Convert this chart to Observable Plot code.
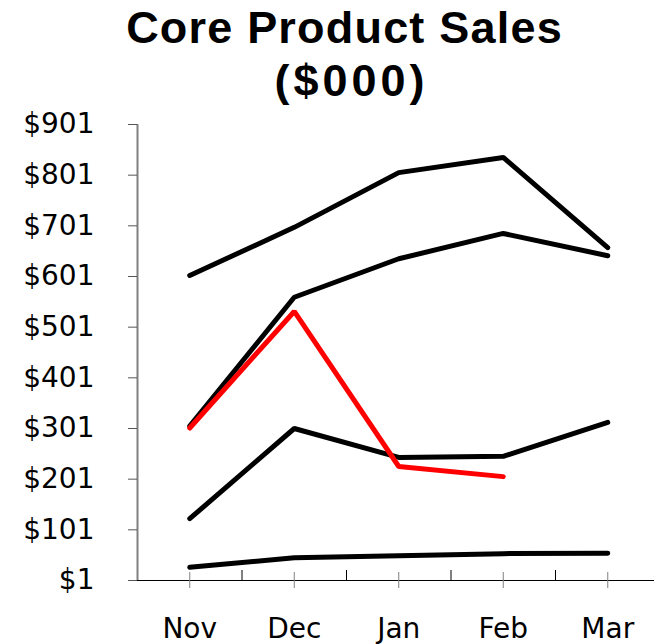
<!DOCTYPE html>
<html><head><meta charset="utf-8">
<script src="https://cdn.jsdelivr.net/npm/d3@7"></script>
<script src="https://cdn.jsdelivr.net/npm/@observablehq/plot@0.6"></script>
<style>
body{margin:0;background:#fff;}
#title{width:654px;height:104px;padding-top:2px;box-sizing:border-box;font-family:"Liberation Sans",Arial,sans-serif;font-weight:bold;font-size:45px;line-height:52.5px;color:#000;}
#title div{text-align:center;box-sizing:border-box;width:654px;white-space:nowrap;}
#t1{padding-left:35px;letter-spacing:1.2px;}
#t2{padding-left:49px;letter-spacing:4px;}
#chart svg{display:block;}
</style></head><body>
<div id="title"><div id="t1">Core Product Sales</div><div id="t2">($000)</div></div>
<div id="chart"></div>
<script>
const months = ["Nov","Dec","Jan","Feb","Mar"];
const yTicks = [1,101,201,301,401,501,601,701,801,901];
const productA = [603,698,806,836,658];
const productB = [306,560,636,686,642];
const productC = [123,301,244,246,313];
const productD = [27,46,50,54,55];
const productE = [302,532,226,206];

const blackSeries = [productA, productB, productC, productD];
const rows = (vals, s) => vals.map((v,i)=>({series:s, i, month: months[i], value:v}));
const black = blackSeries.flatMap((vals,k)=>rows(vals,"S"+k));
const red = rows(productE,"E");
const majorTicks = months.map((_,i)=>i);
const minorTicks = months.slice(1).map((_,i)=>i+0.5);

const chart = Plot.plot({
  width:654, height:540, marginLeft:128, marginRight:0, marginTop:20, marginBottom:64,
  style:{fontFamily:"'DejaVu Sans', Verdana, sans-serif", fontSize:"28px", color:"#000", background:"#fff"},
  x:{type:"linear", domain:[-0.5, months.length-0.5], range:[137, 659.5], label:null},
  y:{domain:[yTicks[0], yTicks[yTicks.length-1]], label:null},
  marks:[
    Plot.ruleY([yTicks[0]], {stroke:"#000", strokeWidth:1}),
    Plot.ruleX([-0.5], {y1:yTicks[0], y2:yTicks[yTicks.length-1], stroke:"#808080", strokeWidth:2}),
    Plot.axisY({ticks:yTicks, tickFormat:d=>"$"+d, tickSize:9, dx:9, tickPadding:34, stroke:"#555", fontSize:28, label:null}),
    Plot.axisX({ticks:majorTicks, tickFormat:i=>months[i], tickSize:8, tickPadding:30, stroke:"#808080", fontSize:28, label:null}),
    Plot.axisX({ticks:majorTicks, tickFormat:()=>"", tickSize:-8, stroke:"#808080", label:null}),
    Plot.axisX({ticks:minorTicks, tickFormat:()=>"", tickSize:-10, stroke:"#000", label:null}),
    Plot.lineY(black, {x:"i", y:"value", z:"series", stroke:"#000", strokeWidth:5, strokeLinecap:"round", strokeLinejoin:"miter"}),
    Plot.lineY(red, {x:"i", y:"value", stroke:"#ff0000", strokeWidth:5, strokeLinecap:"round", strokeLinejoin:"miter"})
  ]
});
document.getElementById("chart").appendChild(chart);
</script>
</body></html>
